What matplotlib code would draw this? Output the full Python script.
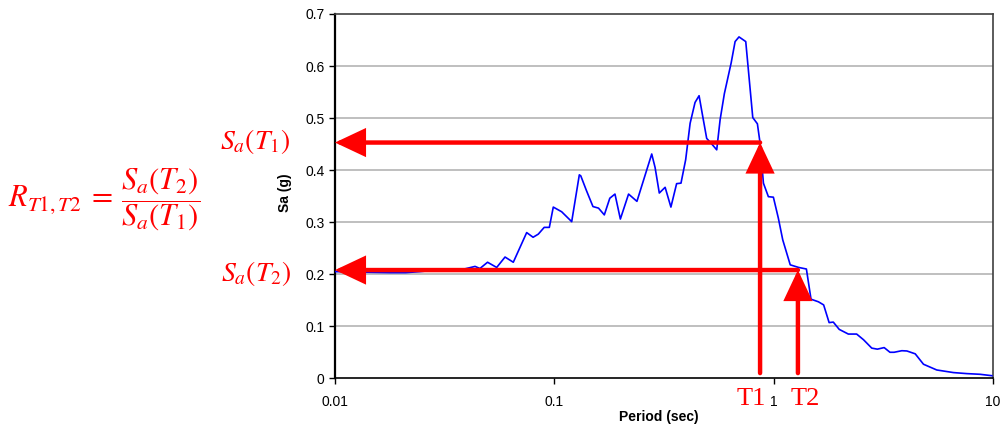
import matplotlib
matplotlib.use("Agg")
import matplotlib.pyplot as plt

periods = [0.0100, 0.0130, 0.0178, 0.0210, 0.0244, 0.0290, 0.0334, 0.0380, 0.0435, 0.0458,
           0.0496, 0.0546, 0.0596, 0.0650, 0.0748, 0.0800, 0.0845, 0.0899, 0.0949, 0.0989,
           0.108, 0.120, 0.130, 0.132, 0.140, 0.150, 0.159, 0.169, 0.179, 0.189,
           0.200, 0.218, 0.238, 0.278, 0.288, 0.301, 0.320, 0.340, 0.361, 0.378,
           0.397, 0.416, 0.438, 0.457, 0.475, 0.495, 0.525, 0.550, 0.570, 0.596,
           0.640, 0.667, 0.695, 0.746, 0.803, 0.843, 0.867, 0.898, 0.946, 0.997,
           1.05, 1.10, 1.19, 1.30, 1.41, 1.48, 1.60, 1.69, 1.79, 1.87,
           1.99, 2.19, 2.39, 2.57, 2.80, 2.97, 3.19, 3.39, 3.54, 3.84,
           4.05, 4.42, 4.82, 5.54, 6.60, 7.60, 8.73, 9.88]
sa = [0.205, 0.204, 0.203, 0.203, 0.205, 0.208, 0.209, 0.209, 0.215, 0.211,
      0.223, 0.213, 0.233, 0.223, 0.280, 0.271, 0.277, 0.290, 0.290, 0.329,
      0.320, 0.301, 0.391, 0.389, 0.361, 0.330, 0.327, 0.314, 0.346, 0.354,
      0.306, 0.354, 0.340, 0.431, 0.405, 0.356, 0.367, 0.329, 0.374, 0.375,
      0.420, 0.490, 0.530, 0.543, 0.503, 0.461, 0.449, 0.439, 0.497, 0.547,
      0.606, 0.647, 0.656, 0.647, 0.501, 0.489, 0.452, 0.375, 0.349, 0.348,
      0.308, 0.266, 0.218, 0.213, 0.210, 0.152, 0.147, 0.141, 0.107, 0.108,
      0.094, 0.085, 0.085, 0.074, 0.058, 0.056, 0.059, 0.050, 0.050, 0.053,
      0.0525, 0.047, 0.027, 0.016, 0.011, 0.009, 0.0077, 0.005]

x_ticks = [0.01, 0.1, 1, 10]
x_tick_labels = ["0.01", "0.1", "1", "10"]
y_ticks = [0, 0.1, 0.2, 0.3, 0.4, 0.5, 0.6, 0.7]
y_tick_labels = ["0", "0.1", "0.2", "0.3", "0.4", "0.5", "0.6", "0.7"]

T1, Sa_T1 = 0.867, 0.453
T2, Sa_T2 = 1.29, 0.208
x_min = 0.01
arrow_base = 0.01

plt.rcParams['font.family'] = ['Liberation Sans', 'DejaVu Sans']
plt.rcParams['mathtext.fontset'] = 'stix'

fig = plt.figure(figsize=(10.02, 4.30), dpi=100)
ax = fig.add_axes([335/1002, 51.7/430, 658/1002, 364.3/430])

ax.set_xscale('log')
ax.set_xlim(0.01, 10)
ax.set_ylim(0, 0.7)
ax.set_xticks(x_ticks)
ax.set_xticklabels(x_tick_labels)
ax.xaxis.set_minor_locator(matplotlib.ticker.NullLocator())
ax.set_yticks(y_ticks)
ax.set_yticklabels(y_tick_labels)
ax.tick_params(axis='both', labelsize=10, length=4, width=1, direction='out', colors='black')
ax.tick_params(axis='x', pad=8)

for y in y_ticks[1:-1]:
    ax.axhline(y, color='#b4b4b4', lw=1.2, zorder=1)

ax.spines['left'].set_color('black')
ax.spines['left'].set_linewidth(1.6)
ax.spines['bottom'].set_color('black')
ax.spines['bottom'].set_linewidth(1.2)
ax.spines['top'].set_color('#404040')
ax.spines['top'].set_linewidth(1.2)
ax.spines['right'].set_color('#404040')
ax.spines['right'].set_linewidth(1.2)

ax.plot(periods, sa, color='#0000ff', lw=1.2, zorder=3)

aprops = dict(arrowstyle='-|>,head_length=1.7,head_width=0.8', lw=3.2, color='#ff0000',
              mutation_scale=10, shrinkA=0, shrinkB=0, joinstyle='miter')
# vertical arrows
ax.annotate('', xy=(T1, Sa_T1), xytext=(T1, arrow_base), arrowprops=aprops, zorder=5)
ax.annotate('', xy=(T2, Sa_T2), xytext=(T2, arrow_base), arrowprops=aprops, zorder=5)
# horizontal arrows
ax.annotate('', xy=(x_min, Sa_T1), xytext=(T1, Sa_T1), arrowprops=aprops, zorder=5)
ax.annotate('', xy=(x_min, Sa_T2), xytext=(T2, Sa_T2), arrowprops=aprops, zorder=5)

H = 430.0
W = 1002.0
fig.text(659/W, 1 - 417/H, 'Period (sec)', ha='center', va='center', fontsize=10, fontweight='bold')
fig.text(285/W, 1 - 193/H, 'Sa (g)', ha='center', va='center', fontsize=10, fontweight='bold', rotation=90)

serif = ['Liberation Serif', 'DejaVu Serif']
fig.text(751/W, 1 - 399/H, 'T1', ha='center', va='center', fontsize=19, color='#ff0000', family=serif)
fig.text(805/W, 1 - 399/H, 'T2', ha='center', va='center', fontsize=19, color='#ff0000', family=serif)

fig.text(255/W, 1 - 142/H, r'$S_a(T_1)$', ha='center', va='center', fontsize=20, color='#ff0000')
fig.text(256/W, 1 - 273/H, r'$S_a(T_2)$', ha='center', va='center', fontsize=20, color='#ff0000')
fig.text(8/W, 1 - 200/H, r'$R_{T1,T2}\:=\:\dfrac{S_a(T_2)}{S_a(T_1)}$', ha='left', va='center',
         fontsize=22, color='#ff0000')

fig.savefig('out.png', dpi=100)
